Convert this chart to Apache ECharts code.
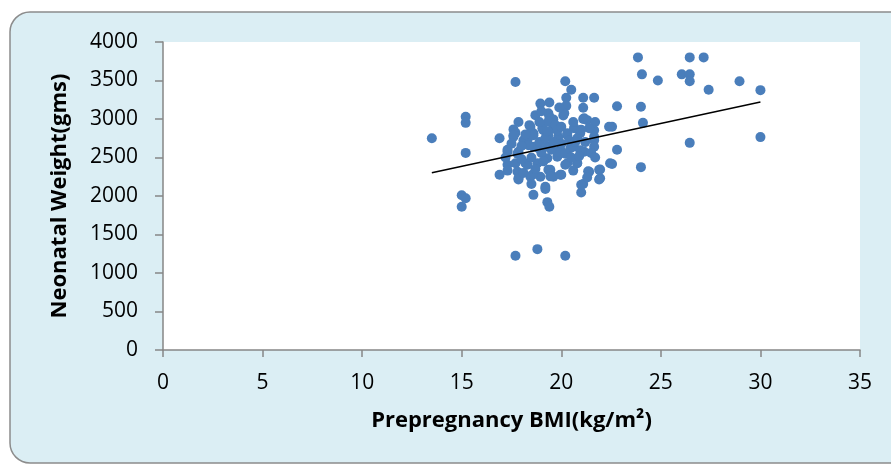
<!DOCTYPE html>
<html>
<head>
<meta charset="utf-8">
<title>Neonatal weight vs prepregnancy BMI</title>
<script src="https://cdn.jsdelivr.net/npm/echarts@6/dist/echarts.min.js"></script>
<style>
  html, body { margin: 0; padding: 0; background: #ffffff; }
  #chart { width: 891px; height: 466px; }
</style>
</head>
<body>
<div id="chart"></div>
<script>
// BMI (kg/m2) of each mother
var bmi = [
  13.5, 15.2, 15.2, 15.2, 15.0, 15.2, 15.0, 17.7, 17.7, 18.8, 20.2,
  23.85, 24.05, 24.85, 26.05, 26.45, 26.45, 26.45, 27.15, 27.4, 28.95, 30.0, 30.0, 26.45, 24.0,
  22.8, 24.0, 22.55, 24.1, 22.8, 22.55, 21.95, 21.95,
  20.2, 20.5, 20.25, 21.1, 21.65, 18.95, 19.4, 20.25, 21.1, 18.7, 19.4, 19.6, 20.1, 21.1, 21.3, 21.7,
  17.85, 18.4, 20.65, 17.6, 16.9, 17.6, 18.3, 18.6, 19.1, 19.6, 20.3, 20.95, 21.65, 21.65, 21.65,
  17.3, 17.85, 18.6, 19.3, 19.95, 20.6, 21.15, 17.3, 17.7, 18.3, 18.8, 19.3, 19.8, 20.3, 20.8,
  16.9, 17.8, 17.85, 18.45, 18.5, 18.95, 19.35, 19.6, 20.0, 21.1, 21.4, 19.2, 17.85, 18.6, 19.2,
  19.3, 19.4, 21.0, 19.35, 19.45, 20.15, 21.15, 17.7, 17.6, 18.45, 18.6, 19.05, 19.35, 19.7, 19.35,
  19.85, 20.3, 20.65, 20.8, 21.4, 21.65, 22.4, 18.1, 18.35, 17.3, 17.8, 18.85, 19.8, 20.45, 20.95,
  18.2, 18.55, 19.45, 19.45, 19.95, 20.2, 20.8, 21.35, 21.9, 21.9, 22.45, 21.0,
  18.0, 18.9, 19.2, 19.6, 20.0, 20.4, 20.7, 21.2, 19.0, 19.5, 20.2, 20.5, 18.5, 18.0, 19.1, 20.9,
  21.5, 21.7, 19.8, 20.6, 18.9, 19.0, 19.9, 18.2, 17.5, 18.7, 20.6, 21.3, 17.3, 18.1, 17.2, 20.0,
  21.0, 19.3
];
// neonatal weight (gms), same order
var weight = [
  2750, 3030, 2950, 2560, 2010, 1970, 1860, 3480, 1225, 1310, 1225,
  3800, 3580, 3500, 3580, 3800, 3580, 3490, 3800, 3380, 3490, 3375, 2765, 2690, 2375,
  3165, 3160, 2900, 2950, 2600, 2415, 2345, 2230,
  3490, 3380, 3275, 3275, 3275, 3200, 3215, 3170, 3145, 3050, 3030, 2995, 3045, 3000, 2985, 2960,
  2960, 2920, 2885, 2865, 2750, 2770, 2725, 2815, 2855, 2880, 2790, 2815, 2855, 2725, 2640,
  2575, 2575, 2640, 2640, 2600, 2640, 2575, 2405, 2425, 2405, 2425, 2490, 2510, 2425, 2425,
  2275, 2315, 2230, 2250, 2155, 2250, 2340, 2250, 2275, 2155, 2315, 2120, 2215, 2015, 2090,
  1920, 1860, 2045, 3075, 3010, 3075, 3010, 2820, 2790, 2900, 2790, 2880, 2965, 2920, 2790,
  2770, 2815, 2880, 2750, 2880, 2770, 2900, 2725, 2660, 2600, 2550, 2620, 2575, 2620, 2595,
  2425, 2275, 2340, 2255, 2275, 2405, 2430, 2320, 2340, 2215, 2425, 2145,
  2650, 2700, 2750, 2700, 2680, 2720, 2700, 2700, 2560, 2600, 2550, 2500, 2500, 2480, 2450, 2520,
  2560, 2500, 2850, 2960, 2960, 3100, 3150, 2800, 2680, 2350, 2330, 2240, 2330, 2300, 2500, 2900,
  2860, 2840
];
// linear trend line end points
var trendX = [13.5, 30];
var trendY = [2303, 3222];

var xTicks = [0, 5, 10, 15, 20, 25, 30, 35];
var yTicks = [0, 500, 1000, 1500, 2000, 2500, 3000, 3500, 4000];

var points = bmi.map(function (b, i) { return [b, weight[i]]; });
var trend = trendX.map(function (t, i) { return [t, trendY[i]]; });

var chart = echarts.init(document.getElementById('chart'));
var font = '"Open Sans", Lato, sans-serif';

chart.setOption({
  animation: false,
  backgroundColor: '#ffffff',
  textStyle: { fontFamily: font },
  graphic: [{
    type: 'rect',
    z: -10,
    silent: true,
    shape: { x: 10, y: 12, width: 900, height: 451, r: 20 },
    style: { fill: '#dbeef4', stroke: '#8c8c8c', lineWidth: 1.5 }
  }],
  grid: {
    left: 163, right: 31, top: 42, bottom: 116,
    show: true, backgroundColor: '#ffffff', borderWidth: 0
  },
  xAxis: {
    type: 'value',
    min: xTicks[0],
    max: xTicks[xTicks.length - 1],
    interval: 5,
    name: 'Prepregnancy BMI(kg/m²)',
    nameLocation: 'middle',
    nameGap: 60,
    nameTextStyle: { fontFamily: font, fontWeight: 'bold', fontSize: 22, color: '#000' },
    axisLine: { show: true, lineStyle: { color: '#868686', width: 1.5 } },
    axisTick: { show: true, length: 7, lineStyle: { color: '#868686', width: 1.5 } },
    axisLabel: { margin: 23, fontSize: 21, color: '#000', fontFamily: font },
    splitLine: { show: false }
  },
  yAxis: {
    type: 'value',
    min: yTicks[0],
    max: yTicks[yTicks.length - 1],
    interval: 500,
    name: 'Neonatal Weight(gms)',
    nameLocation: 'middle',
    nameGap: 92,
    nameRotate: 90,
    nameTextStyle: { fontFamily: font, fontWeight: 'bold', fontSize: 22, color: '#000' },
    axisLine: { show: true, lineStyle: { color: '#868686', width: 1.5 } },
    axisTick: { show: true, inside: false, length: 8, lineStyle: { color: '#868686', width: 1.5 } },
    axisLabel: {
      margin: 25, fontSize: 21, color: '#000', fontFamily: font,
      formatter: function (v) { return String(v); }
    },
    splitLine: { show: false }
  },
  series: [
    {
      type: 'scatter',
      data: points,
      symbolSize: 10,
      itemStyle: { color: '#4a7ebb', opacity: 1 }
    },
    {
      type: 'line',
      data: trend,
      symbol: 'none',
      z: 3,
      lineStyle: { color: '#000000', width: 1.5 }
    }
  ]
});
</script>
</body>
</html>
